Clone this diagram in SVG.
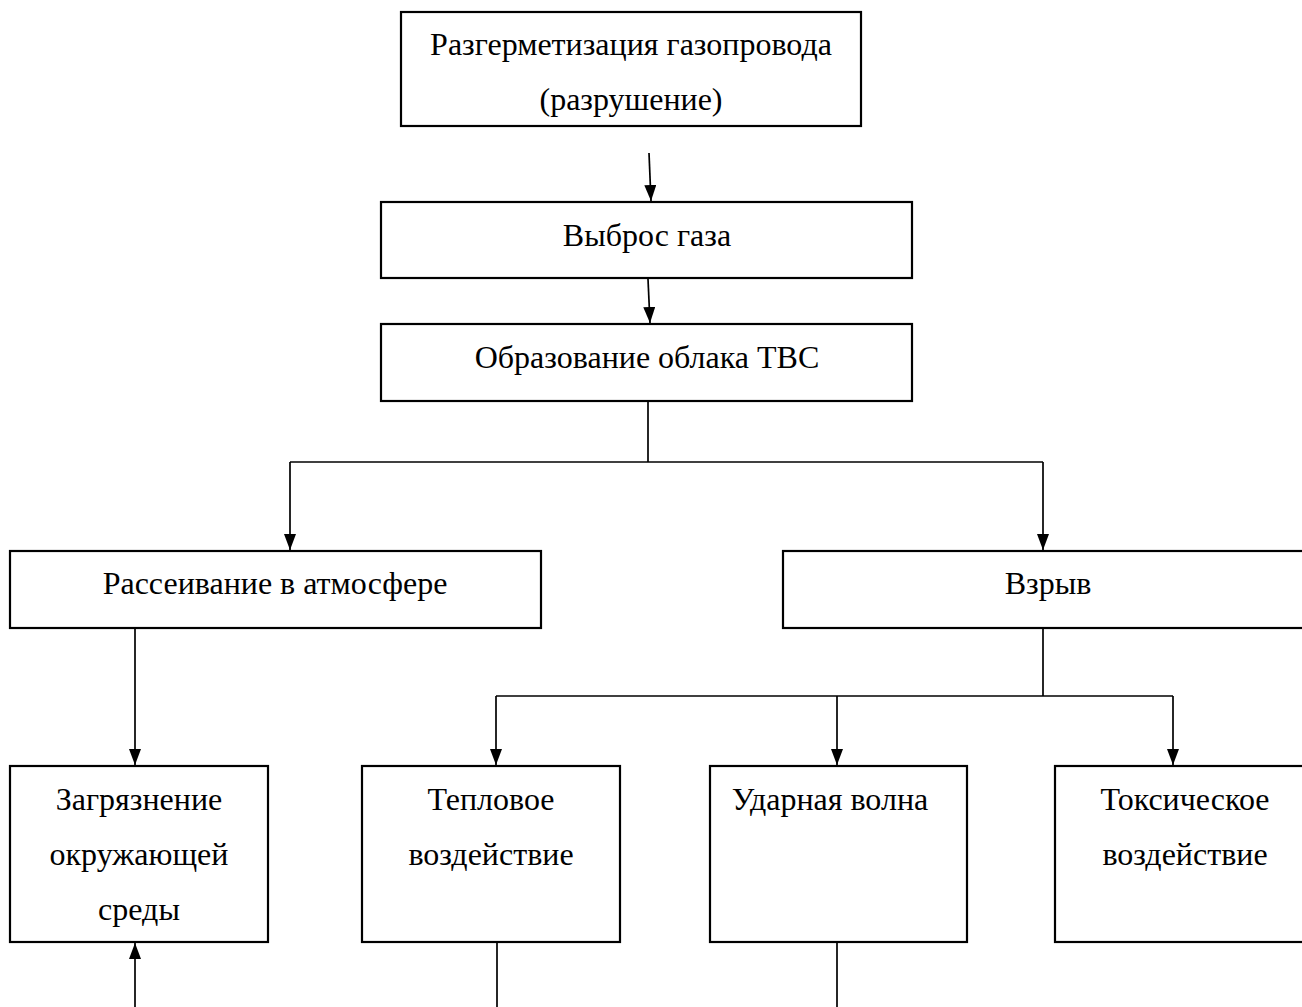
<svg xmlns="http://www.w3.org/2000/svg" width="1302" height="1007" viewBox="0 0 1302 1007">
<style>
.box{fill:#fff;stroke:#000;stroke-width:2.2}
.t{font-family:"Liberation Serif","Times New Roman",serif;font-size:32px;fill:#000;text-anchor:middle}
.c{stroke:#000;stroke-width:1.7;fill:none}
</style>
<defs>
<marker id="ad" viewBox="0 0 16 12" refX="16" refY="6" markerWidth="16" markerHeight="12" markerUnits="userSpaceOnUse" orient="auto">
<path d="M0,0 L16,6 L0,12 Z" fill="#000"/>
</marker>
</defs>
<g id="n1"><rect class="box" x="401" y="12" width="460" height="114"/><text class="t" x="631" y="55">Разгерметизация газопровода</text><text class="t" x="631" y="110">(разрушение)</text></g>
<g id="n2"><rect class="box" x="381" y="202" width="531" height="76"/><text class="t" x="647" y="246">Выброс газа</text></g>
<g id="n3"><rect class="box" x="381" y="324" width="531" height="77"/><text class="t" x="647" y="368">Образование облака ТВС</text></g>
<g id="n4"><rect class="box" x="10" y="551" width="531" height="77"/><text class="t" x="275" y="594">Рассеивание в атмосфере</text></g>
<g id="n5"><rect class="box" x="783" y="551" width="531" height="77"/><text class="t" x="1048" y="594">Взрыв</text></g>
<g id="n6"><rect class="box" x="10" y="766" width="258" height="176"/><text class="t" x="139" y="810">Загрязнение</text><text class="t" x="139" y="865">окружающей</text><text class="t" x="139" y="920">среды</text></g>
<g id="n7"><rect class="box" x="362" y="766" width="258" height="176"/><text class="t" x="491" y="810">Тепловое</text><text class="t" x="491" y="865">воздействие</text></g>
<g id="n8"><rect class="box" x="710" y="766" width="257" height="176"/><text class="t" x="830" y="810">Ударная волна</text></g>
<g id="n9"><rect class="box" x="1055" y="766" width="258" height="176"/><text class="t" x="1185" y="810">Токсическое</text><text class="t" x="1185" y="865">воздействие</text></g>
<g id="connectors">
<line class="c" x1="649" y1="153" x2="651" y2="201" marker-end="url(#ad)"/>
<line class="c" x1="648" y1="279" x2="650" y2="323" marker-end="url(#ad)"/>
<line class="c" x1="648" y1="401" x2="648" y2="462"/>
<line class="c" x1="290" y1="462" x2="1043" y2="462"/>
<line class="c" x1="290" y1="462" x2="290" y2="550" marker-end="url(#ad)"/>
<line class="c" x1="1043" y1="462" x2="1043" y2="550" marker-end="url(#ad)"/>
<line class="c" x1="135" y1="628" x2="135" y2="765" marker-end="url(#ad)"/>
<line class="c" x1="1043" y1="628" x2="1043" y2="696"/>
<line class="c" x1="496" y1="696" x2="1173" y2="696"/>
<line class="c" x1="496" y1="696" x2="496" y2="765" marker-end="url(#ad)"/>
<line class="c" x1="837" y1="696" x2="837" y2="765" marker-end="url(#ad)"/>
<line class="c" x1="1173" y1="696" x2="1173" y2="765" marker-end="url(#ad)"/>
<line class="c" x1="135" y1="1007" x2="135" y2="943" marker-end="url(#ad)"/>
<line class="c" x1="497" y1="942" x2="497" y2="1007"/>
<line class="c" x1="837" y1="942" x2="837" y2="1007"/>
</g>
</svg>
